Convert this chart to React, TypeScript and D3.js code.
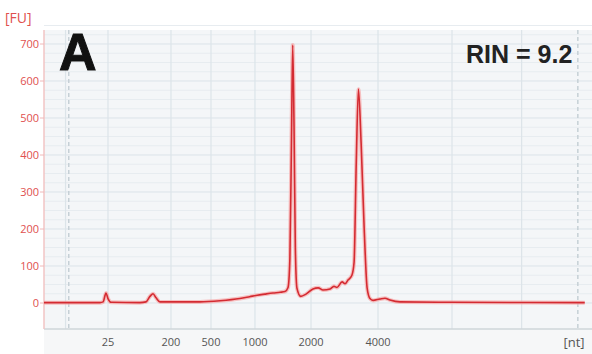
import React from "react";
import * as d3 from "d3";

// migration time (s) and fluorescence (FU)
const traceTime = [17.0, 22.15, 22.43, 22.7, 22.88, 23.16, 25.82, 26.37, 26.74, 27.02, 27.3, 27.66, 31.34, 33.18, 35.0, 35.9, 36.6, 37.3, 38.05, 38.7, 39.15, 39.43, 39.6, 39.75, 39.86, 39.98, 40.1, 40.25, 40.6, 41.08, 41.72, 42.2, 42.64, 43.3, 43.65, 43.93, 44.4, 44.67, 44.94, 45.3, 45.5, 45.7, 45.9, 46.15, 46.43, 46.7, 46.96, 47.24, 47.88, 48.34, 48.8, 49.72, 54.3, 66.7];
const traceFU = [1, 1, 3, 27, 12, 2, 1, 3, 18, 25, 14, 3, 3, 6, 12, 17, 21, 24, 27, 29, 31, 42, 120, 450, 697, 480, 150, 40, 18, 24, 38, 41, 35, 38, 45, 42, 57, 52, 62, 75, 110, 380, 578, 430, 200, 40, 12, 7, 11, 13, 8, 3, 2, 1];

const yTicks = [0, 100, 200, 300, 400, 500, 600, 700];
const xLabels = ["25", "200", "500", "1000", "2000", "4000"];
const xLabelTime = [22.88, 28.67, 32.35, 36.39, 41.54, 47.7];
const extraGridTime = [18.98, 54.5, 60.9];
const markerTime = [19.0, 66.8];

export default function App() {
  const W = 592, H = 354;
  const x = d3.scaleLinear().domain([17, 67]).range([44, 588]);
  const y = d3.scaleLinear().domain([0, 700]).range([303, 44]);
  const pts = traceTime.map((t, i) => [t, traceFU[i]] as [number, number]);
  const line = d3.line<[number, number]>().x(d => x(d[0])).y(d => y(d[1])).curve(d3.curveMonotoneX);
  const path = line(pts) || "";
  const minor = d3.range(0, 760, 25);
  const plotTop = 30, plotBottom = 329, plotLeft = 44, plotRight = 592;
  return (
    <svg width={W} height={H} style={{ position: "absolute", left: 0, top: 0, background: "#ffffff" }} fontFamily="'Open Sans', 'DejaVu Sans', sans-serif">
      <rect x={plotLeft} y={plotTop} width={plotRight - plotLeft} height={H - plotTop} fill="#f4f6f8" />
      {minor.map(v => (
        <line key={"m" + v} x1={plotLeft} x2={plotRight} y1={y(v)} y2={y(v)} stroke={v % 100 === 0 ? "#dbe3e9" : "#e7ecf0"} strokeWidth={1} />
      ))}
      {xLabelTime.concat(extraGridTime).map((t, i) => (
        <line key={"v" + i} x1={x(t)} x2={x(t)} y1={plotTop} y2={plotBottom} stroke="#dce4e9" strokeWidth={1.2} />
      ))}
      {markerTime.map((t, i) => (
        <line key={"mk" + i} x1={x(t) + (i === 0 ? 3 : -8)} x2={x(t) + (i === 0 ? 3 : -8)} y1={plotTop} y2={plotBottom} stroke="#c6d0d6" strokeWidth={1.5} strokeDasharray="4,3" />
      ))}
      <line x1={plotLeft} x2={plotRight} y1={plotBottom} y2={plotBottom} stroke="#cfd6da" strokeWidth={1.5} />
      <line x1={plotLeft} x2={plotLeft} y1={plotTop} y2={plotBottom} stroke="#f2c4c4" strokeWidth={1.5} />
      <rect x={plotLeft} y={plotBottom + 1} width={plotRight - plotLeft} height={H - plotBottom} fill="#f6f7f8" />
      {yTicks.map(v => (
        <g key={"yt" + v}>
          <line x1={plotLeft - 4} x2={plotLeft} y1={y(v)} y2={y(v)} stroke="#f0b8b8" />
          <text x={39} y={y(v) + 4} textAnchor="end" fontSize={11} fill="#e0504f">{v}</text>
        </g>
      ))}
      <text x={5} y={23} fontSize={14} fill="#e0504f">[FU]</text>
      {xLabels.map((l, i) => (
        <text key={"xl" + l} x={x(xLabelTime[i])} y={346} textAnchor="middle" fontSize={11} fill="#555">{l}</text>
      ))}
      <text x={574} y={347} textAnchor="middle" fontSize={13} fill="#555">[nt]</text>
      <path d={path} fill="none" stroke="#f6a9a9" strokeWidth={4} strokeOpacity={0.7} strokeLinejoin="round" />
      <path d={path} fill="none" stroke="#d42b32" strokeWidth={1.6} strokeLinejoin="round" />
      <text x={59} y={70} fontSize={52} fontWeight="bold" fill="#111" stroke="#111" strokeWidth={1} fontFamily="'Liberation Sans', Arial, sans-serif">A</text>
      <text x={466} y={63} fontSize={25} fontWeight="bold" fill="#222" fontFamily="'Liberation Sans', Arial, sans-serif">RIN = 9.2</text>
    </svg>
  );
}
